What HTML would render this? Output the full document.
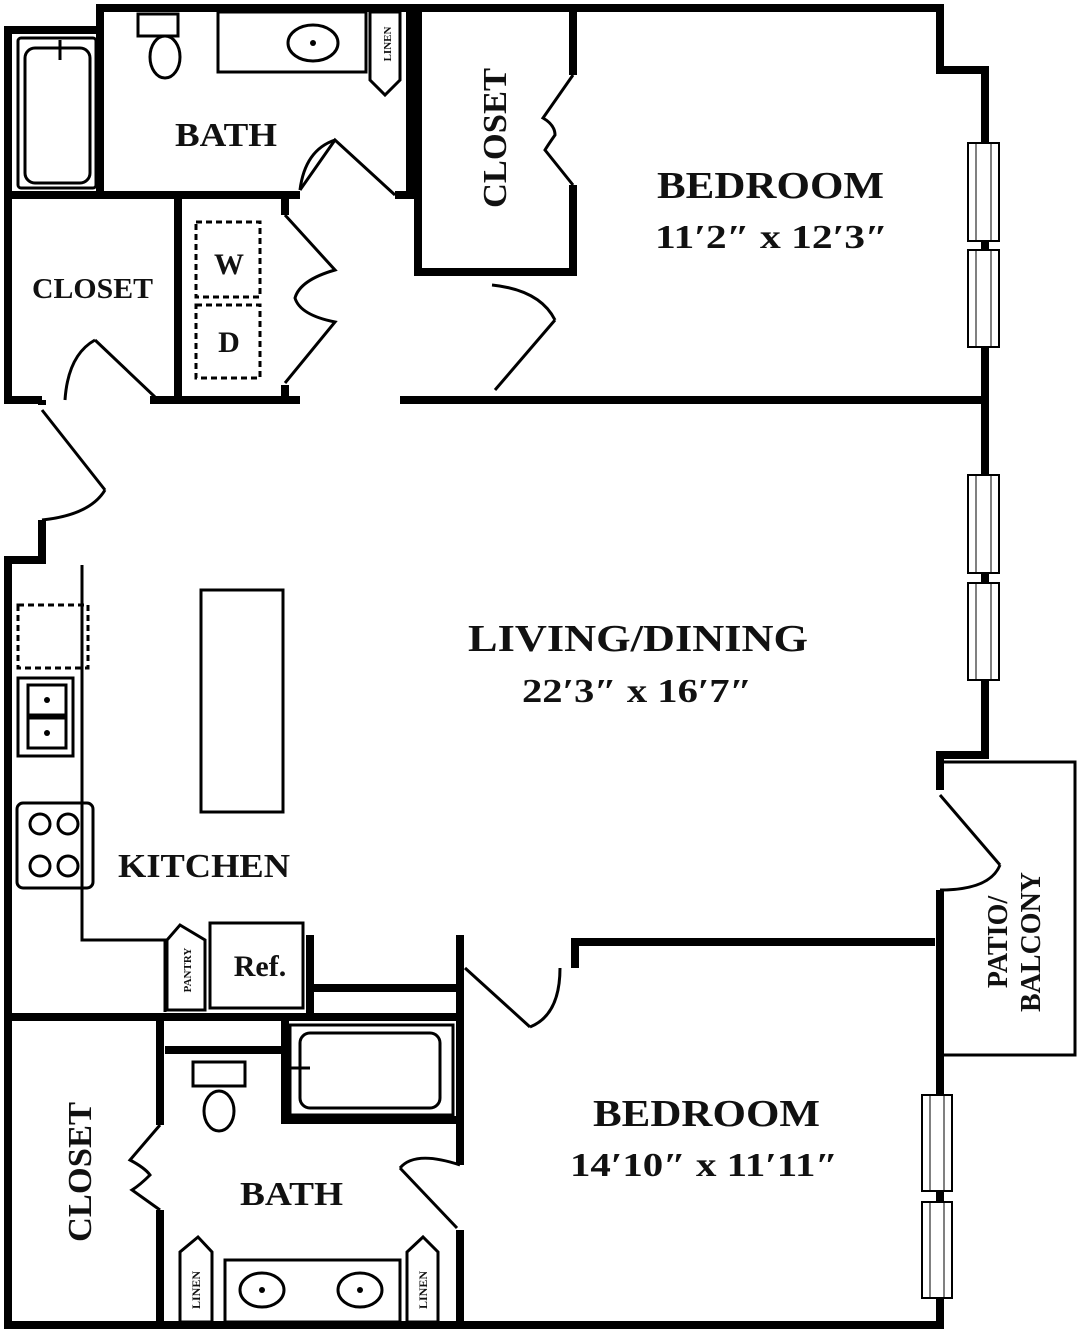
<!DOCTYPE html>
<html><head><meta charset="utf-8"><style>
html,body{margin:0;padding:0;background:#fff}
svg{display:block}
text{font-family:"Liberation Serif",serif;font-weight:bold;fill:#111}
</style></head><body>
<svg width="1077" height="1336" viewBox="0 0 1077 1336" xmlns="http://www.w3.org/2000/svg">
<g fill="none" stroke="#000" stroke-width="8" stroke-linejoin="miter">
<path d="M100,30 V8 H940 V70 H985 V755 H940 V790"/>
<path d="M100,30 H8 V400 H42"/>
<path d="M42,405 V400"/>
<path d="M42,520 V560 H8 V1325 H940 V1055"/>
<path d="M940,890 V1325"/>
<path d="M8,195 H300"/>
<path d="M395,195 H415"/>
<path d="M100,8 V195"/>
<path d="M410,8 V195"/>
<path d="M178,195 V400"/>
<path d="M285,195 V215"/>
<path d="M285,385 V400"/>
<path d="M150,400 H300"/>
<path d="M400,400 H985"/>
<path d="M418,8 V272 H573 V185"/>
<path d="M573,8 V75"/>
<path d="M8,1017 H460"/>
<path d="M310,935 V1013"/>
<path d="M310,988 H460"/>
<path d="M460,935 V1165"/>
<path d="M460,1230 V1325"/>
<path d="M575,968 V942 H935"/>
<path d="M160,1017 V1125"/>
<path d="M160,1210 V1325"/>
<path d="M285,1020 V1120 H460"/>
<path d="M165,1050 H285"/>
</g>
<g fill="none" stroke="#000" stroke-width="3">
<path d="M300,190 L335,140 L395,195"/>
<path d="M300,190 Q305,150 335,140"/>
<path d="M155,397 L95,340"/>
<path d="M95,340 Q68,355 65,400"/>
<path d="M42,410 L105,490"/>
<path d="M105,490 Q90,515 42,520"/>
<path d="M495,390 L555,320"/>
<path d="M555,320 Q540,290 492,285"/>
<path d="M940,795 L1000,865"/>
<path d="M1000,865 Q990,890 940,890"/>
<path d="M465,968 L530,1027"/>
<path d="M530,1027 Q560,1015 560,968"/>
<path d="M457,1228 L400,1168"/>
<path d="M400,1168 Q415,1150 460,1165"/>
<path d="M285,215 L335,270 Q300,280 295,298 Q300,315 335,322 L285,383"/>
<path d="M573,75 L543,118 Q555,125 555,135 Q548,145 545,150 L573,185"/>
<path d="M160,1125 L130,1160 Q145,1168 150,1175 Q140,1185 132,1190 L160,1210"/>
<rect x="18" y="38" width="78" height="150" rx="3"/>
<rect x="25" y="48" width="65" height="135" rx="10"/>
<path d="M60,40 V60"/>
<rect x="138" y="14" width="40" height="22"/>
<ellipse cx="165" cy="57" rx="15" ry="21"/>
<rect x="218" y="12" width="148" height="60"/>
<ellipse cx="313" cy="43" rx="25" ry="18"/>
<path d="M370,12 H400 V80 L385,95 L370,80 Z"/>
<rect x="196" y="222" width="64" height="75" stroke-dasharray="6,4"/>
<rect x="196" y="305" width="64" height="73" stroke-dasharray="6,4"/>
<path d="M82,565 V940 H165 V1012"/>
<rect x="18" y="605" width="70" height="63" stroke-dasharray="6,4"/>
<rect x="18" y="678" width="55" height="78"/>
<rect x="28" y="685" width="38" height="30"/><rect x="28" y="718" width="38" height="30"/>
<rect x="17" y="803" width="76" height="85" rx="6"/>
<circle cx="40" cy="824" r="10"/><circle cx="68" cy="824" r="10"/><circle cx="40" cy="866" r="10"/><circle cx="68" cy="866" r="10"/>
<rect x="201" y="590" width="82" height="222"/>
<rect x="210" y="923" width="93" height="85"/>
<path d="M167,1010 V940 L180,925 L205,940 V1010 Z"/>
<rect x="290" y="1025" width="163" height="90"/>
<rect x="300" y="1033" width="140" height="75" rx="10"/>
<path d="M290,1068 H310"/>
<rect x="193" y="1062" width="52" height="24"/>
<ellipse cx="219" cy="1111" rx="15" ry="20"/>
<rect x="225" y="1260" width="175" height="62"/>
<ellipse cx="262" cy="1290" rx="22" ry="17"/><ellipse cx="360" cy="1290" rx="22" ry="17"/>
<path d="M180,1322 V1252 L198,1237 L212,1252 V1322 Z"/>
<path d="M407,1322 V1252 L423,1237 L438,1252 V1322 Z"/>
<path d="M940,762 H1075 V1055 H940"/>
</g>
<g fill="#000"><circle cx="313" cy="43" r="3"/><circle cx="262" cy="1290" r="3"/><circle cx="360" cy="1290" r="3"/><circle cx="47" cy="700" r="3"/><circle cx="47" cy="733" r="3"/></g>
<g fill="#fff" stroke="#000" stroke-width="2">
<rect x="968" y="143" width="31" height="98"/><rect x="968" y="250" width="31" height="97"/>
<rect x="968" y="475" width="31" height="98"/><rect x="968" y="583" width="31" height="97"/>
<rect x="922" y="1095" width="30" height="96"/><rect x="922" y="1202" width="30" height="96"/>
</g>
<g stroke="#000" stroke-width="1"><path d="M976,143V241M991,143V241M976,250V347M991,250V347M976,475V573M991,475V573M976,583V680M991,583V680M930,1095V1191M944,1095V1191M930,1202V1298M944,1202V1298"/></g>
<text x="175" y="146" font-size="34" textLength="102" lengthAdjust="spacingAndGlyphs">BATH</text>
<text x="32" y="298" font-size="28" textLength="121" lengthAdjust="spacingAndGlyphs">CLOSET</text>
<text x="229" y="274" font-size="30" text-anchor="middle">W</text>
<text x="229" y="352" font-size="30" text-anchor="middle">D</text>
<text x="657" y="198" font-size="38" textLength="227" lengthAdjust="spacingAndGlyphs">BEDROOM</text>
<text x="655" y="248" font-size="34" textLength="233" lengthAdjust="spacingAndGlyphs">11′2″ x 12′3″</text>
<text x="468" y="651" font-size="38" textLength="340" lengthAdjust="spacingAndGlyphs">LIVING/DINING</text>
<text x="522" y="702" font-size="34" textLength="230" lengthAdjust="spacingAndGlyphs">22′3″ x 16′7″</text>
<text x="118" y="877" font-size="34" textLength="172" lengthAdjust="spacingAndGlyphs">KITCHEN</text>
<text x="260" y="976" font-size="30" text-anchor="middle" font-weight="normal">Ref.</text>
<text x="593" y="1126" font-size="38" textLength="227" lengthAdjust="spacingAndGlyphs">BEDROOM</text>
<text x="570" y="1176" font-size="34" textLength="268" lengthAdjust="spacingAndGlyphs">14′10″ x 11′11″</text>
<text x="240" y="1205" font-size="34" textLength="103" lengthAdjust="spacingAndGlyphs">BATH</text>
<text transform="translate(506,138) rotate(-90)" font-size="34" text-anchor="middle" textLength="140" lengthAdjust="spacingAndGlyphs">CLOSET</text>
<text transform="translate(91,1172) rotate(-90)" font-size="34" text-anchor="middle" textLength="140" lengthAdjust="spacingAndGlyphs">CLOSET</text>
<text transform="translate(1007,942) rotate(-90)" font-size="28" text-anchor="middle">PATIO/</text>
<text transform="translate(1040,942) rotate(-90)" font-size="28" text-anchor="middle">BALCONY</text>
<text transform="translate(391,44) rotate(-90)" font-size="11" text-anchor="middle" font-weight="normal">LINEN</text>
<text transform="translate(191,970) rotate(-90)" font-size="11" text-anchor="middle" font-weight="normal">PANTRY</text>
<text transform="translate(200,1290) rotate(-90)" font-size="12" text-anchor="middle" font-weight="normal">LINEN</text>
<text transform="translate(427,1290) rotate(-90)" font-size="12" text-anchor="middle" font-weight="normal">LINEN</text>
</svg>
</body></html>
